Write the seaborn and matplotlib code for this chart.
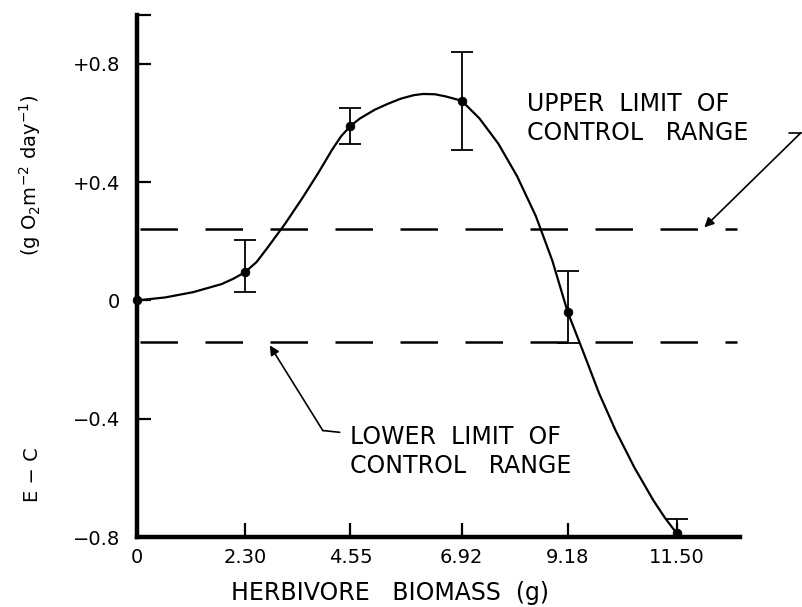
import matplotlib
matplotlib.use("Agg")
import matplotlib.pyplot as plt
import seaborn as sns
import pandas as pd

# ---- data ----
biomass = [0.0, 2.30, 4.55, 6.92, 9.18, 11.50]
e_minus_c = [0.0, 0.095, 0.59, 0.675, -0.04, -0.787]
err_upper = [0.0, 0.203, 0.65, 0.84, 0.098, -0.74]
err_lower = [0.0, 0.03, 0.53, 0.51, -0.145, -0.84]

curve_x = [0.0, 0.6, 1.2, 1.8, 2.05, 2.30, 2.55, 2.79, 3.16, 3.52, 3.86, 4.16,
           4.35, 4.55, 4.75, 5.07, 5.35, 5.62, 5.90, 6.10, 6.35, 6.57, 6.92,
           7.30, 7.70, 8.10, 8.50, 8.85, 9.18, 9.50, 9.85, 10.2, 10.6, 11.0,
           11.25, 11.5]
curve_y = [0.0, 0.01, 0.028, 0.055, 0.073, 0.095, 0.13, 0.18, 0.26, 0.345,
           0.43, 0.51, 0.555, 0.59, 0.615, 0.645, 0.665, 0.682, 0.694, 0.698,
           0.697, 0.69, 0.675, 0.615, 0.53, 0.42, 0.285, 0.135, -0.04, -0.17,
           -0.315, -0.44, -0.565, -0.675, -0.735, -0.787]

upper_limit = 0.243
lower_limit = -0.142

x_ticks = [0.0, 2.30, 4.55, 6.92, 9.18, 11.50]
x_ticklabels = ["0", "2.30", "4.55", "6.92", "9.18", "11.50"]
y_ticks = [-0.8, -0.4, 0.0, 0.4, 0.8]
y_ticklabels = ["\u22120.8", "\u22120.4", "0", "+0.4", "+0.8"]

sns.set_style("ticks")
plt.rcParams['font.family'] = ['DejaVu Sans']
plt.rcParams.update({"text.color": "black", "axes.labelcolor": "black",
                     "xtick.color": "black", "ytick.color": "black"})

fig = plt.figure(figsize=(8.03, 6.07), dpi=100)
ax = fig.add_axes([0.1706, 0.1153, 0.7509, 0.8600])

curve_df = pd.DataFrame({"x": curve_x, "y": curve_y})
pts_df = pd.DataFrame({"x": biomass, "y": e_minus_c})

sns.lineplot(data=curve_df, x="x", y="y", ax=ax, color="black", lw=1.6,
             sort=False, estimator=None, zorder=3)
yerr_lo = [m - l for m, l in zip(e_minus_c, err_lower)]
yerr_hi = [u - m for m, u in zip(e_minus_c, err_upper)]
ax.errorbar(biomass[1:], e_minus_c[1:], yerr=[yerr_lo[1:], yerr_hi[1:]],
            fmt="none", ecolor="black", elinewidth=1.3, capsize=8,
            capthick=1.3, zorder=3)
sns.scatterplot(data=pts_df, x="x", y="y", ax=ax, color="black", s=40,
                edgecolor="black", zorder=4, clip_on=False)

for yv in (upper_limit, lower_limit):
    ax.axhline(yv, xmin=0.005, xmax=0.995, color="black", lw=1.8,
               dashes=(15, 11), zorder=2)

ax.set_xlim(0, 12.85)
ax.set_ylim(-0.8, 0.965)
ax.set_xticks(x_ticks)
ax.set_xticklabels(x_ticklabels, fontsize=14)
ax.set_yticks(y_ticks + [0.965])
ax.set_yticklabels(y_ticklabels + [""], fontsize=14)
ax.tick_params(axis="both", direction="in", length=10, width=1.6,
               color="black", labelcolor="black")
ax.tick_params(axis="y", pad=12)
ax.tick_params(axis="x", pad=8)

for s in ("top", "right"):
    ax.spines[s].set_visible(False)
for s in ("left", "bottom"):
    ax.spines[s].set_linewidth(3.2)
    ax.spines[s].set_color("black")

ax.set_xlabel("HERBIVORE   BIOMASS  (g)", fontsize=17, color="black")
ax.xaxis.set_label_coords(0.42, -0.085)
ax.set_ylabel("E \u2212 C", fontsize=14, color="black")
ax.yaxis.set_label_coords(-0.158, 0.12)
fig.text(0.037, 0.712, "(g O$_2$m$^{-2}$ day$^{-1}$)", rotation=90,
         ha="center", va="center", fontsize=14, color="black")

# annotations
ax.text(8.32, 0.615, "UPPER  LIMIT  OF\nCONTROL   RANGE", fontsize=17,
        ha="left", va="center", linespacing=1.25, color="black")
ax.plot([13.89, 14.15], [0.567, 0.567], color="black", lw=1.2, clip_on=False)
ax.annotate("", xy=(12.09, 0.247), xytext=(14.15, 0.567),
            arrowprops=dict(arrowstyle="-|>", color="black", lw=1.2,
                            mutation_scale=14, shrinkA=0, shrinkB=0),
            annotation_clip=False)

ax.text(4.53, -0.51, "LOWER  LIMIT  OF\nCONTROL   RANGE", fontsize=17,
        ha="left", va="center", linespacing=1.25, color="black")
ax.plot([3.96, 4.32], [-0.44, -0.446], color="black", lw=1.2)
ax.annotate("", xy=(2.83, -0.152), xytext=(3.96, -0.44),
            arrowprops=dict(arrowstyle="-|>", color="black", lw=1.2,
                            mutation_scale=14, shrinkA=0, shrinkB=0))

fig.savefig("out.png", dpi=100)
